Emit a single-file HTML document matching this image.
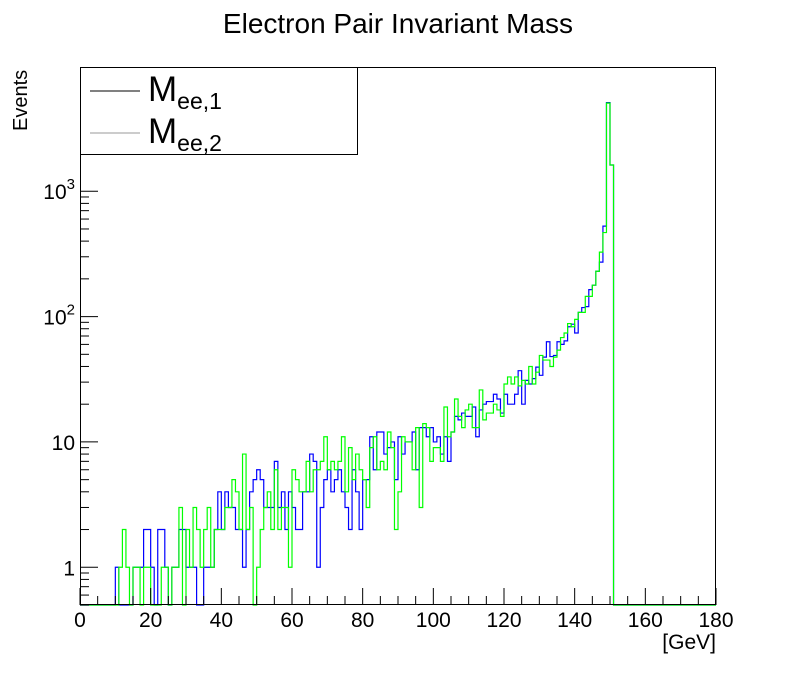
<!DOCTYPE html>
<html><head><meta charset="utf-8"><style>
body{margin:0;background:#fff;}
svg text{font-family:"Liberation Sans",sans-serif;}
</style></head><body>
<svg id="chart" width="796" height="672" xmlns="http://www.w3.org/2000/svg">
<rect x="0" y="0" width="796" height="672" fill="#fff"/>
<text x="398" y="33" font-size="28" text-anchor="middle">Electron Pair Invariant Mass</text>
<text transform="translate(27,131) rotate(-90)" font-size="20">Events</text>
<text x="716" y="649" font-size="21" text-anchor="end">[GeV]</text>
<g id="hists"></g>
<g id="axes"></g>
<rect x="80.5" y="67.5" width="635" height="537" fill="none" stroke="#000" stroke-width="1"/>
<g>
<rect x="80.5" y="67.5" width="277" height="87" fill="#fff" stroke="#000"/>
<line x1="90" y1="91" x2="140" y2="91" stroke="#000"/>
<text x="148" y="101" font-size="35">M<tspan font-size="23" dy="8">ee,1</tspan></text>
<line x1="90" y1="133" x2="140" y2="133" stroke="#999"/>
<text x="148" y="143" font-size="35">M<tspan font-size="23" dy="8">ee,2</tspan></text>
</g>
</svg>
<script>
const binWidth = 1;
const blueCounts = [0,0,0,0,0,0,0,0,0,0,
1,0,0,0,0,1,1,1,2,2,1,0,2,2,1,0,1,1,2,2,
1,1,1,0,0,1,1,1,2,4,2,4,3,3,2,2,1,2,4,5,
6,5,3,3,3,7,3,4,2,4,3,2,2,4,4,8,7,1,3,5,
6,4,5,6,4,3,2,6,4,2,5,5,11,6,12,12,8,9,10,5,
11,8,10,10,12,6,13,13,11,13,10,11,8,11,7,12,16,15,17,16,
16,19,11,18,20,21,21,24,22,17,24,20,20,24,37,20,31,29,32,39.5,
34,47.5,63,48,49,63,60,64,83,87,74,108,118,120,164,178,230,272,527,5100,
1620];
const greenCounts = [0,0,0,0,0,0,0,0,0,0,
0,1,2,1,0,1,1,0,1,1,0,0,0,1,1,0,1,1,3,0,
2,1,3,2,1,2,3,1,2,2,2,3,3,5,4,2,8,2,3,0,
1,2,3,4,2,6,2,3,3,1,6,5,4,4,7,4,6,6,7,11,
6,7,6,7,11,4,9,5,8,6,5,3,9,11,6,7,6,12,9,2,
4,11,10,10,6,13,3,14,13,7,9,9,7,19,11,12,22,16,13,18,
20,13,13,26,15,17,17,20,18,16,29,33,29,33,28,31,29,40,29,36,
49,45,45,40,47.5,54,68,74,88,83,95,108,108,145,145,178,230,327,468,5050,
1620];
const xTickLabels = ["0","20","40","60","80","100","120","140","160","180"];
const yTickExps = [0,1,2,3];

const X0=80, X1=716, Y0=605, Y1=67, XMIN=0, XMAX=180, LMIN=Math.log10(0.5), LMAX=Math.log10(9800);
const NS="http://www.w3.org/2000/svg";
function xs(v){return X0+(v-XMIN)/(XMAX-XMIN)*(X1-X0);}
function ys(v){ if(v<=0) return Y0; const l=Math.log10(v); return Y0-(l-LMIN)/(LMAX-LMIN)*(Y0-Y1);}
function mk(tag,attrs,parent){const e=document.createElementNS(NS,tag);for(const k in attrs)e.setAttribute(k,attrs[k]);parent.appendChild(e);return e;}

function histPath(counts){
  let d="M"+xs(0)+","+Y0;
  for(let i=0;i<counts.length;i++){
    const y=Math.max(Y1,Math.min(Y0,ys(counts[i])));
    d+=" L"+xs(i*binWidth)+","+y+" L"+xs((i+1)*binWidth)+","+y;
  }
  d+=" L"+xs(counts.length*binWidth)+","+Y0+" L"+X1+","+Y0;
  return d;
}
const hg=document.getElementById("hists");
const pb=mk("path",{d:histPath(blueCounts),fill:"none",stroke:"#0000ff","stroke-width":1.2},hg);


const pg=mk("path",{d:histPath(greenCounts),fill:"none",stroke:"#00ff00","stroke-width":1.2},hg);



const ax=document.getElementById("axes");
for(let v=0; v<=180; v+=5){
  const major=(v%20===0);
  const t=mk("line",{x1:xs(v),x2:xs(v),y1:Y0,y2:Y0-(major?17:9),stroke:"#000"},ax);
  
  
}
xTickLabels.forEach((s,i)=>{
  const v=Number(s);
  const t=mk("text",{x:xs(v),y:627,"font-size":21,"text-anchor":"middle"},ax);
  t.textContent=s;
  
  
});
for(let e=-1;e<=3;e++){
  for(let m=1;m<=9;m++){
    const v=m*Math.pow(10,e);
    if(v<0.5||v>9800) continue;
    const t=mk("line",{x1:X0,x2:X0+(m===1?18:9),y1:ys(v),y2:ys(v),stroke:"#000"},ax);
    
    
  }
}
yTickExps.forEach(e=>{
  const y=ys(Math.pow(10,e));
  let t;
  if(e===0||e===1){
    t=mk("text",{x:75,y:y+8,"font-size":21,"text-anchor":"end"},ax);
    t.textContent=(e===0?"1":"10");
  } else {
    t=mk("text",{x:75,y:y+8,"font-size":21,"text-anchor":"end"},ax);
    t.innerHTML='10<tspan font-size="15" dy="-10">'+e+'</tspan>';
  }
  
  
});
</script>
</body></html>
